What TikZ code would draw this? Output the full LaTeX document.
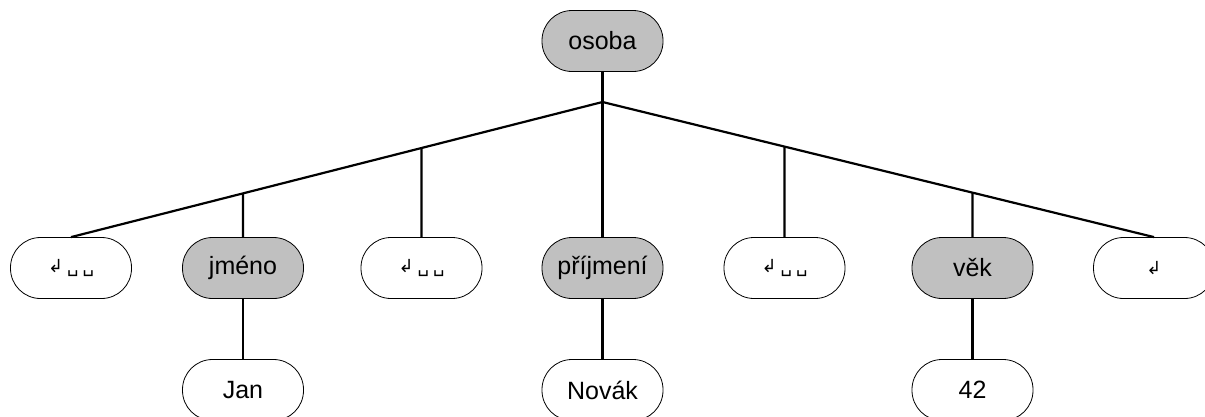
\documentclass[tikz,border=0pt]{standalone}
\usepackage{fontspec}
\setmainfont{Liberation Sans}
\newfontfamily\symfont{DejaVu Sans}
\definecolor{boxgray}{RGB}{192,192,192}
\newcommand{\retsym}{{\symfont\fontsize{18}{20}\selectfont ↲\hspace{4pt}␣\hspace{4pt}␣}}
\newcommand{\retone}{{\symfont\fontsize{18}{20}\selectfont ↲}}
\begin{document}
\begin{tikzpicture}[x=1pt,y=-1pt,
  pill/.style={draw=black,line width=0.8pt,rounded corners=30pt,minimum width=121pt,minimum height=61pt,inner sep=0pt,
    font=\fontsize{25}{28}\selectfont,fill=white},
  elem/.style={pill,fill=boxgray},
  conn/.style={line width=2.2pt}]
\useasboundingbox (0,0) rectangle (1205,416);
\node[elem] (osoba) at (602.5,41) {osoba};
\coordinate (J) at (602.5,102);
\node[pill] (t1) at (71,268) {\retsym};
\node[elem] (jmeno) at (243,268) {jméno};
\node[pill] (t2) at (421.5,268) {\retsym};
\node[elem] (prijmeni) at (602.5,268) {příjmení};
\node[pill] (t3) at (784.5,268) {\retsym};
\node[elem] (vek) at (972.5,268) {věk};
\node[pill] (t4) at (1154,268) {\retone};
\node[pill] (jan) at (243,390) {Jan};
\node[pill] (novak) at (602.5,390) {Novák};
\node[pill] (n42) at (972.5,390) {42};
\draw[conn] (osoba.south) -- (J);
\draw[conn] (J) -- (t1.north);
\draw[conn] (J) -- (t4.north);
\draw[conn] (J) -- (prijmeni.north);
\draw[conn] (jmeno.north) -- (intersection of J--t1.north and jmeno.north--jmeno.south);
\draw[conn] (t2.north) -- (intersection of J--t1.north and t2.north--t2.south);
\draw[conn] (t3.north) -- (intersection of J--t4.north and t3.north--t3.south);
\draw[conn] (vek.north) -- (intersection of J--t4.north and vek.north--vek.south);
\draw[conn] (jmeno.south) -- (jan.north);
\draw[conn] (prijmeni.south) -- (novak.north);
\draw[conn] (vek.south) -- (n42.north);
\end{tikzpicture}
\end{document}
